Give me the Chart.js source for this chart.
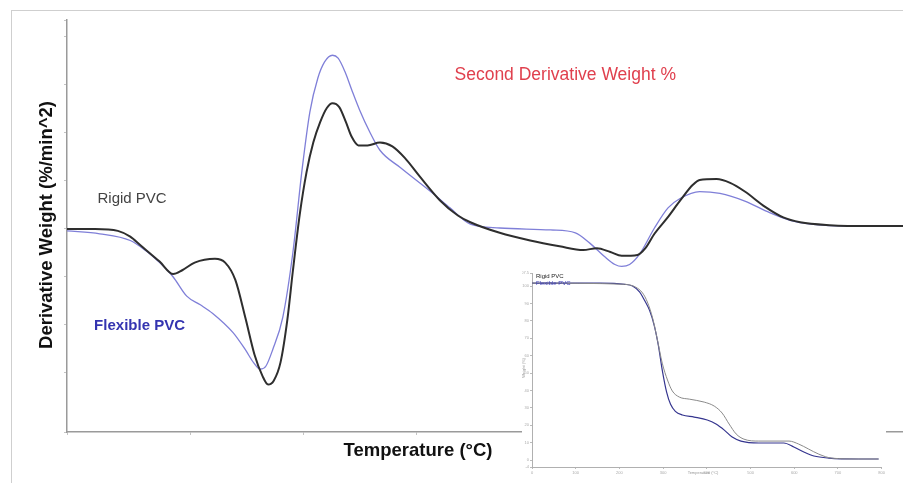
<!DOCTYPE html>
<html>
<head>
<meta charset="utf-8">
<script src="https://cdn.jsdelivr.net/npm/chart.js@4"></script>
<style>
  html, body { margin: 0; padding: 0; background: #fff; }
  #wrap { position: relative; width: 903px; height: 483px; overflow: hidden; }
  #frame { position: absolute; left: 11px; top: 10px; width: 900px; height: 480px; border: 1px solid #cfcfcf; }
  #main { position: absolute; left: 0; top: 0; }
  #inset { position: absolute; left: 522px; top: 268px; background: #fff; }
</style>
</head>
<body>
<div id="wrap">
  <div id="frame"></div>
  <canvas id="main" width="903" height="483"></canvas>
  <canvas id="inset" width="364" height="215"></canvas>
</div>
<script>
// Second derivative of weight loss, rigid vs flexible PVC (temperature in °C)
const rigidTemp = [91, 116, 136, 147, 156, 173, 185, 193, 204, 222, 231, 240, 249, 257, 264, 269, 274, 280, 286, 291,
  297, 303, 309, 315, 321, 326, 332, 338, 343, 349, 357, 368, 379, 390, 403, 421, 437, 448, 474, 501,
  527, 548, 560, 572, 582, 596, 603, 611, 622, 634, 645, 651, 666, 678, 691, 709, 725, 740, 766, 802, 831];
const rigidD2 = [-0.001, -0.001, -0.003, -0.009, -0.018, -0.035, -0.048, -0.044, -0.036, -0.032, -0.036, -0.054, -0.094, -0.132, -0.154, -0.163, -0.159, -0.140, -0.096, -0.044,
  0.014, 0.058, 0.089, 0.110, 0.125, 0.130, 0.126, 0.110, 0.095, 0.086, 0.086, 0.089, 0.085, 0.073, 0.054, 0.029, 0.013, 0.006, -0.005, -0.013,
  -0.019, -0.023, -0.021, -0.025, -0.029, -0.028, -0.021, -0.006, 0.010, 0.029, 0.045, 0.050, 0.051, 0.047, 0.038, 0.022, 0.011, 0.006, 0.003, 0.002, 0.002];

const flexTemp = [91, 120, 147, 160, 173, 185, 197, 209, 220, 238, 249, 256, 262, 267, 273, 282, 291, 299, 306, 313,
  319, 326, 331, 337, 343, 350, 359, 368, 386, 415, 430, 448, 474, 519, 541, 554, 567, 576, 582, 589,
  598, 611, 623, 634, 651, 669, 691, 713, 731, 749, 784, 831];
const flexD2 = [-0.003, -0.006, -0.013, -0.023, -0.036, -0.051, -0.071, -0.080, -0.089, -0.109, -0.127, -0.140, -0.147, -0.144, -0.127, -0.093, -0.025, 0.060, 0.121, 0.156,
  0.173, 0.180, 0.177, 0.163, 0.144, 0.123, 0.100, 0.081, 0.063, 0.036, 0.021, 0.004, 0.000, -0.002, -0.005, -0.016, -0.030, -0.038, -0.040, -0.038,
  -0.027, 0.000, 0.021, 0.031, 0.038, 0.036, 0.028, 0.016, 0.008, 0.004, 0.002, 0.002];

// Weight % curves for the small TGA plot
const rigidTgaTemp = [0, 212, 237, 253, 264, 276, 287, 298, 310, 321, 337, 360, 394, 417, 435, 451, 467, 485, 519, 588, 610, 633, 656, 686, 747, 793];
const rigidWeight = [101.7, 101, 99.4, 96, 90.8, 81.6, 69, 55.7, 46, 39.7, 36.2, 35, 33.3, 31, 27, 20.7, 15, 12, 10.9, 10.9, 9.2, 6.3, 3.4, 1.1, 0.6, 0.6];
const flexTgaTemp = [0, 155, 212, 230, 246, 257, 269, 280, 289, 298, 308, 317, 328, 344, 371, 401, 421, 440, 458, 478, 519, 576, 599, 622, 645, 679, 747, 793];
const flexWeight = [101.7, 101.7, 101, 100, 96.6, 92, 86, 77, 66, 51.7, 39, 32, 28, 25.9, 24.7, 23, 20.7, 17.2, 13.2, 10.9, 9.8, 9.8, 7.5, 4.6, 2.3, 1.1, 0.6, 0.6];

const toPoints = (xs, ys) => xs.map((x, i) => ({ x: x, y: ys[i] }));

// Text placed on the main chart, in data coordinates
const mainNotes = [
  { text: 'Second Derivative Weight %', x: 434, y: 0.159, font: '17.5px "Liberation Sans", Arial', color: '#e0404e' },
  { text: 'Rigid PVC', x: 118, y: 0.030, font: '15px "Liberation Sans", Arial', color: '#444' },
  { text: 'Flexible PVC', x: 115, y: -0.102, font: 'bold 15px "Liberation Sans", Arial', color: '#3434b0' }
];

const mainText = {
  id: 'mainText',
  afterDraw(chart) {
    const ctx = chart.ctx;
    const xs = chart.scales.x, ys = chart.scales.y;
    ctx.save();
    ctx.textBaseline = 'middle';
    ctx.textAlign = 'left';
    mainNotes.forEach(n => {
      ctx.font = n.font;
      ctx.fillStyle = n.color;
      ctx.fillText(n.text, xs.getPixelForValue(n.x), ys.getPixelForValue(n.y));
    });
    // axis titles
    ctx.fillStyle = '#111';
    ctx.font = 'bold 18.5px "Liberation Sans", Arial';
    ctx.textAlign = 'center';
    ctx.fillText('Temperature (°C)', 418, 451);
    ctx.translate(47, 225);
    ctx.rotate(-Math.PI / 2);
    ctx.fillText('Derivative Weight (%/min^2)', 0, 0);
    ctx.restore();
  }
};

new Chart(document.getElementById('main'), {
  type: 'line',
  data: {
    datasets: [
      {
        label: 'Rigid PVC',
        data: toPoints(rigidTemp, rigidD2),
        borderColor: '#2e2e2e',
        borderWidth: 2,
        pointRadius: 0,
        cubicInterpolationMode: 'monotone',
        fill: false
      },
      {
        label: 'Flexible PVC',
        data: toPoints(flexTemp, flexD2),
        borderColor: '#7f7fd8',
        borderWidth: 1.3,
        pointRadius: 0,
        cubicInterpolationMode: 'monotone',
        fill: false
      }
    ]
  },
  options: {
    responsive: false,
    animation: false,
    layout: { padding: { top: 20, right: 0, left: 0, bottom: 0 } },
    plugins: { legend: { display: false }, tooltip: { enabled: false } },
    scales: {
      x: {
        type: 'linear',
        min: 91,
        max: 831,
        afterFit(scale) { scale.height = 51; },
        ticks: { display: false, stepSize: 100 },
        grid: { drawOnChartArea: false, tickLength: 3, color: '#c4c4c4' },
        border: { color: '#9a9a9a', width: 1.5 }
      },
      y: {
        min: -0.2125,
        max: 0.2167,
        afterFit(scale) { scale.width = 67; },
        ticks: { display: false, stepSize: 0.05 },
        grid: { drawOnChartArea: false, tickLength: 3, color: '#c4c4c4' },
        border: { color: '#9a9a9a', width: 1.5 }
      }
    }
  },
  plugins: [mainText]
});

// Legend and axis titles of the small TGA plot
const insetText = {
  id: 'insetText',
  afterDraw(chart) {
    const ctx = chart.ctx;
    const a = chart.chartArea;
    ctx.save();
    ctx.textBaseline = 'middle';
    ctx.textAlign = 'left';
    ctx.font = '6px "Liberation Sans", Arial';
    ctx.fillStyle = '#222';
    ctx.fillText('Rigid PVC', a.left + 4, a.top + 3);
    ctx.fillStyle = '#3a3ab8';
    ctx.fillText('Flexible PVC', a.left + 4, a.top + 10);
    ctx.fillStyle = '#999';
    ctx.font = '4px "Liberation Sans", Arial';
    ctx.textAlign = 'center';
    ctx.fillText('Temperature (°C)', 181, 205);
    ctx.translate(2, 100);
    ctx.rotate(-Math.PI / 2);
    ctx.fillText('Weight (%)', 0, 0);
    ctx.restore();
  }
};

new Chart(document.getElementById('inset'), {
  type: 'line',
  data: {
    datasets: [
      {
        label: 'Rigid PVC',
        data: toPoints(rigidTgaTemp, rigidWeight),
        borderColor: '#8a8a8a',
        borderWidth: 1,
        pointRadius: 0,
        cubicInterpolationMode: 'monotone'
      },
      {
        label: 'Flexible PVC',
        data: toPoints(flexTgaTemp, flexWeight),
        borderColor: '#35358f',
        borderWidth: 1.2,
        pointRadius: 0,
        cubicInterpolationMode: 'monotone'
      }
    ]
  },
  options: {
    responsive: false,
    animation: false,
    layout: { padding: { top: 5, right: 3, left: 0, bottom: 0 } },
    plugins: { legend: { display: false }, tooltip: { enabled: false } },
    scales: {
      x: {
        type: 'linear',
        min: 0,
        max: 800,
        afterFit(scale) { scale.height = 16; },
        ticks: { stepSize: 100, font: { size: 4 }, color: '#aaa', padding: 1 },
        grid: { drawOnChartArea: false, tickLength: 2, color: '#bbb' },
        border: { color: '#b0b0b0', width: 1 }
      },
      y: {
        min: -4,
        max: 107.5,
        afterFit(scale) { scale.width = 10; },
        ticks: { stepSize: 10, font: { size: 4 }, color: '#aaa', padding: 1 },
        grid: { drawOnChartArea: false, tickLength: 2, color: '#bbb' },
        border: { color: '#b0b0b0', width: 1 }
      }
    }
  },
  plugins: [insetText]
});
</script>
</body>
</html>
